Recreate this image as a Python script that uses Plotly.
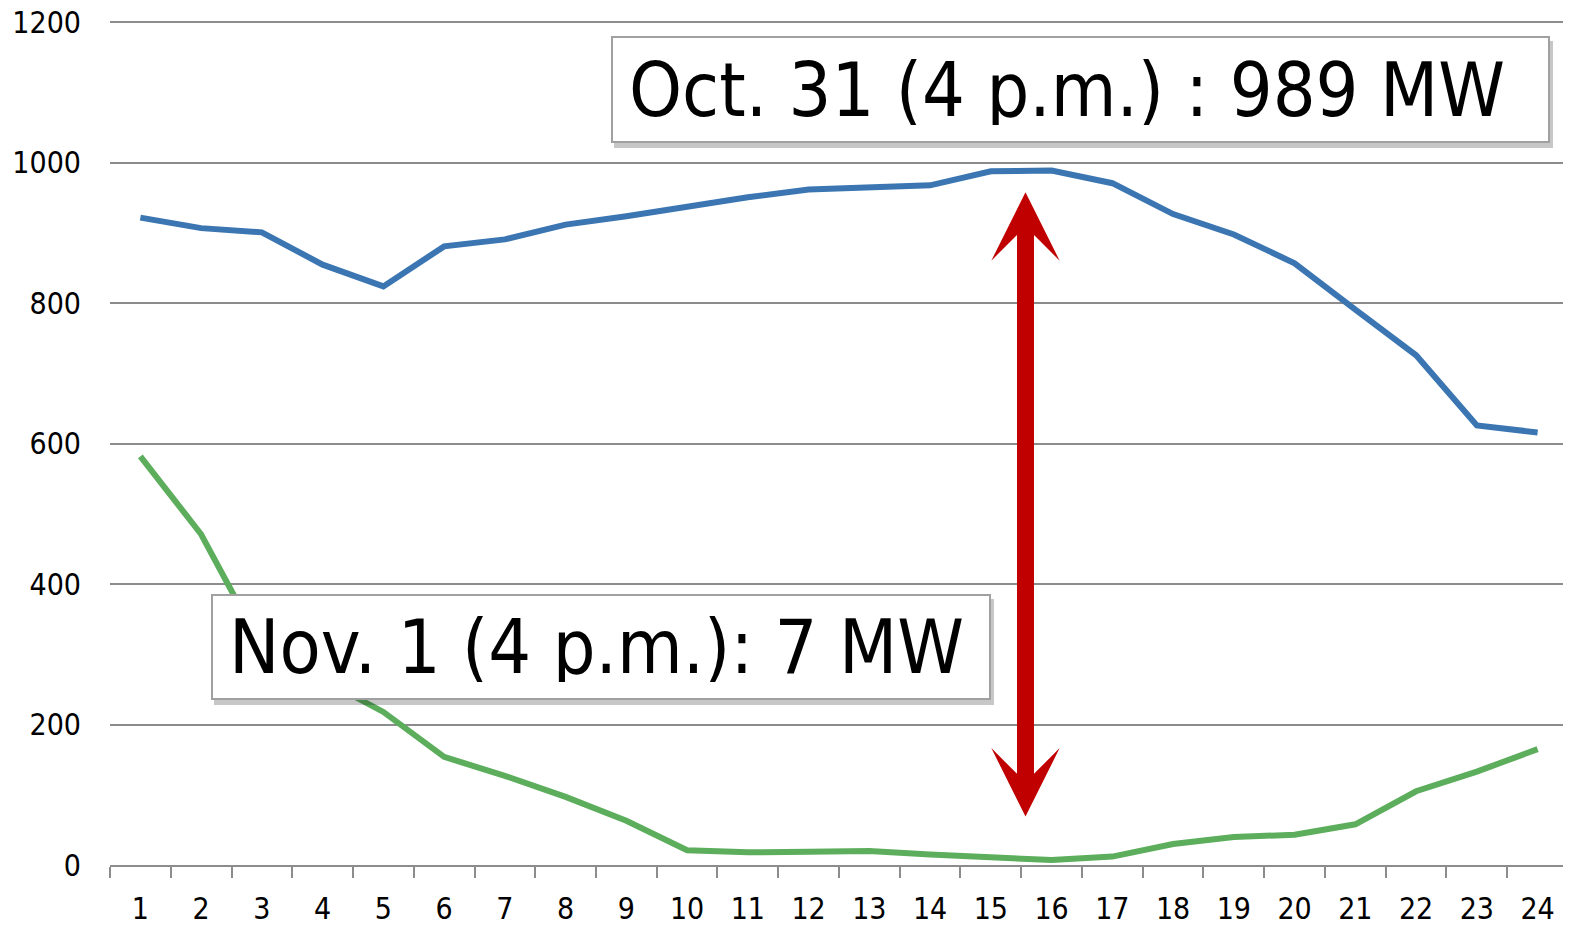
import plotly.graph_objects as go

hours = list(range(1, 25))
oct31 = [922, 907, 901, 855, 824, 881, 891, 912, 924, 938, 951, 962,
         965, 968, 988, 989, 971, 927, 898, 857, 791, 726, 626, 616]
nov1 = [582, 471, 310, 265, 218, 154, 127, 97, 63, 21, 18, 19,
        20, 15, 10, 7, 12, 30, 40, 43, 58, 105, 133, 165]
y_ticks = [0, 200, 400, 600, 800, 1000, 1200]

label_oct = "Oct. 31 (4 p.m.) : 989 MW"
label_nov = "Nov. 1 (4 p.m.): 7 MW"

FONT = "DejaVu Sans Condensed, DejaVu Sans"
GRID = "#8c8c8c"

fig = go.Figure()
fig.add_trace(go.Scatter(x=hours, y=oct31, mode="lines",
                         line=dict(color="#3B76B2", width=6), showlegend=False))
fig.add_trace(go.Scatter(x=hours, y=nov1, mode="lines",
                         line=dict(color="#5CAE5C", width=6), showlegend=False))

# double-headed arrow between the two 4 p.m. values
fig.add_annotation(x=15.57, y=958, ax=15.57, ay=67, xref="x", yref="y",
                   axref="x", ayref="y", text="", showarrow=True,
                   arrowhead=3, startarrowhead=3, arrowside="end+start",
                   arrowwidth=17, arrowsize=0.67, startarrowsize=0.67,
                   arrowcolor="#C00000", standoff=0, startstandoff=0)

PAD = 16

def label_box(text, x, y, w, h):
    # shadow
    fig.add_annotation(x=x, y=y, xref="x", yref="y", text="", showarrow=False,
                       width=w - 2 * PAD, height=h - 2 * PAD,
                       bgcolor="rgba(0,0,0,0.22)",
                       borderwidth=0, borderpad=PAD + 2, xshift=3, yshift=-5)
    fig.add_annotation(x=x, y=y, xref="x", yref="y", text=text, showarrow=False,
                       width=w - 2 * PAD, height=h - 2 * PAD,
                       align="left", valign="middle", yshift=0,
                       bgcolor="white", bordercolor="#a0a0a0", borderwidth=2,
                       borderpad=PAD, font=dict(family=FONT, size=75, color="black"))

label_box(label_oct, 16.47, 1105, 935, 103)
label_box(label_nov, 8.58, 310, 776, 102)

fig.update_layout(
    width=1555, height=916,
    margin=dict(l=102, r=0, t=13, b=59),
    paper_bgcolor="white", plot_bgcolor="white",
    font=dict(family=FONT, size=30, color="black"),
    xaxis=dict(range=[0.5, 24.418], tickmode="array", tickvals=hours,
               ticktext=[str(h) for h in hours], ticks="", showgrid=False,
               zeroline=False, showline=True, linecolor=GRID, linewidth=2,
               ticklabelstandoff=16, automargin=False,
               ticklabeloverflow="allow",
               tickfont=dict(size=30),
               minor=dict(tick0=0.5, dtick=1, ticks="outside", ticklen=11,
                          tickcolor=GRID, tickwidth=2, showgrid=False)),
    yaxis=dict(range=[0, 1202], tickmode="array", tickvals=y_ticks,
               showgrid=True, gridcolor=GRID, gridwidth=2, zeroline=False,
               showline=False, ticks="", ticklabelstandoff=28,
               ticklabeloverflow="allow", automargin=False),
)

fig.write_html("out.html")
